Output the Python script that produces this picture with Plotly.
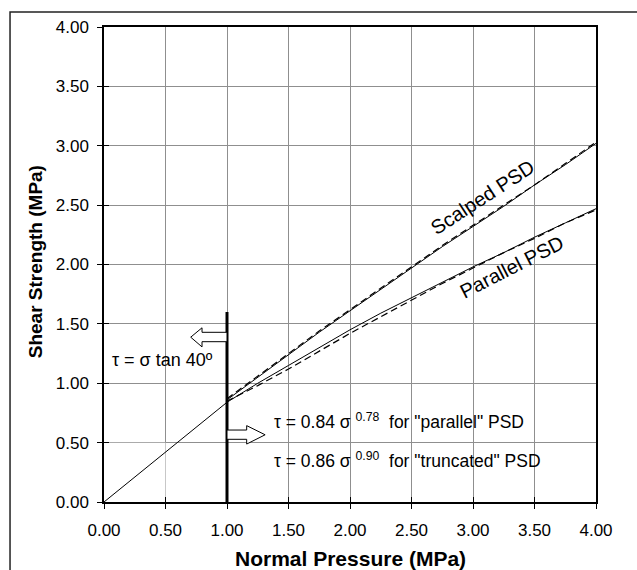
import plotly.graph_objects as go

# ---- data ----
sigma_line = [0.0, 1.0]
tau_line = [0.0, 0.84]

sigma = [1.0, 1.25, 1.5, 1.75, 2.0, 2.25, 2.5, 2.75, 3.0, 3.25, 3.5, 3.75, 4.0]
scalped_solid = [0.86, 1.05, 1.24, 1.43, 1.61, 1.79, 1.97, 2.15, 2.32, 2.49, 2.67, 2.84, 3.02]
scalped_dash = [0.87, 1.06, 1.25, 1.44, 1.62, 1.80, 1.98, 2.16, 2.33, 2.50, 2.67, 2.85, 3.03]
parallel_solid = [0.84, 1.00, 1.15, 1.30, 1.45, 1.59, 1.72, 1.85, 1.98, 2.10, 2.23, 2.35, 2.47]
parallel_dash = [0.85, 0.98, 1.12, 1.27, 1.42, 1.56, 1.70, 1.84, 1.97, 2.10, 2.22, 2.35, 2.46]

limit_x = [1.0, 1.0]
limit_y = [0.0, 1.6]

tick_vals = [0, 0.5, 1.0, 1.5, 2.0, 2.5, 3.0, 3.5, 4.0]
tick_text = ["0.00", "0.50", "1.00", "1.50", "2.00", "2.50", "3.00", "3.50", "4.00"]

FONT = "Liberation Sans, Arial, sans-serif"

fig = go.Figure()
line_style = dict(color="black", width=1)
fig.add_trace(go.Scatter(x=sigma_line, y=tau_line, mode="lines", line=line_style, showlegend=False))
fig.add_trace(go.Scatter(x=sigma, y=scalped_solid, mode="lines", line=line_style, showlegend=False))
fig.add_trace(go.Scatter(x=sigma, y=scalped_dash, mode="lines",
                         line=dict(color="black", width=1.2, dash="7px,4px"), showlegend=False))
fig.add_trace(go.Scatter(x=sigma, y=parallel_solid, mode="lines", line=line_style, showlegend=False))
fig.add_trace(go.Scatter(x=sigma, y=parallel_dash, mode="lines",
                         line=dict(color="black", width=1.2, dash="7px,4px"), showlegend=False))
fig.add_trace(go.Scatter(x=limit_x, y=limit_y, mode="lines",
                         line=dict(color="black", width=3), showlegend=False))
# dummy trace for the overlaid (inside-tick) axes
fig.add_trace(go.Scatter(x=[None], y=[None], xaxis="x2", yaxis="y2", showlegend=False))

grid = "#8f8f8f"
fig.update_layout(
    width=637, height=570,
    margin=dict(l=104, r=41, t=27, b=68),
    paper_bgcolor="white", plot_bgcolor="white",
    font=dict(family=FONT, color="black", size=17),
    xaxis=dict(range=[0, 4], tickvals=tick_vals, ticktext=tick_text,
               showgrid=True, gridcolor=grid, gridwidth=1,
               showline=True, linecolor="black", linewidth=1.5, mirror=True,
               ticks="outside", ticklen=5, tickcolor="black", ticklabelstandoff=7,
               tickfont=dict(size=17), zeroline=False),
    yaxis=dict(range=[0, 4], tickvals=tick_vals, ticktext=tick_text,
               showgrid=True, gridcolor=grid, gridwidth=1,
               showline=True, linecolor="black", linewidth=1.5, mirror=True,
               ticks="outside", ticklen=5, tickcolor="black", ticklabelstandoff=5,
               tickfont=dict(size=17), zeroline=False),
    xaxis2=dict(range=[0, 4], overlaying="x", matches="x", tickvals=tick_vals,
                showticklabels=False, showgrid=False, showline=False, zeroline=False,
                ticks="inside", ticklen=5, tickcolor="black"),
    yaxis2=dict(range=[0, 4], overlaying="y", matches="y", tickvals=tick_vals,
                showticklabels=False, showgrid=False, showline=False, zeroline=False,
                ticks="inside", ticklen=5, tickcolor="black"),
)

# white patch hiding the grid in the lower-left cell
fig.add_shape(type="rect", xref="x", yref="y", x0=0.004, x1=0.5, y0=0.004, y1=0.5,
              fillcolor="white", line=dict(width=0), layer="between")

# outer frame (partly cut off on the right and bottom)
fig.add_shape(type="path", xref="paper", yref="paper",
              path="M 1.2 1.0316 L -0.191 1.0316 L -0.191 -0.3",
              line=dict(color="#222222", width=1.5))

# hollow arrows
arrow_left = "M 1.0 1.429 L 0.797 1.429 L 0.797 1.467 L 0.705 1.388 L 0.797 1.306 L 0.797 1.35 L 1.0 1.35 Z"
arrow_right = "M 1.0 0.606 L 1.16 0.606 L 1.16 0.643 L 1.31 0.566 L 1.16 0.488 L 1.16 0.528 L 1.0 0.528 Z"
for p in (arrow_left, arrow_right):
    fig.add_shape(type="path", xref="x", yref="y", path=p,
                  fillcolor="white", line=dict(color="black", width=1))

# text
fig.add_annotation(x=0.049, y=1.196, xref="x", yref="y", xanchor="left", yanchor="middle",
                   text="τ = σ tan 40º", showarrow=False, font=dict(size=18))
fig.add_annotation(x=1.366, y=0.68, xref="x", yref="y", xanchor="left", yanchor="middle",
                   text="τ = 0.84 σ <sup>0.78</sup>  for \"parallel\" PSD", showarrow=False,
                   font=dict(size=17.5))
fig.add_annotation(x=1.366, y=0.355, xref="x", yref="y", xanchor="left", yanchor="middle",
                   text="τ = 0.86 σ <sup>0.90</sup>  for \"truncated\" PSD", showarrow=False,
                   font=dict(size=17.5))
fig.add_annotation(x=3.081, y=2.568, xref="x", yref="y", text="Scalped PSD", showarrow=False,
                   textangle=-33, font=dict(size=20))
fig.add_annotation(x=3.315, y=1.981, xref="x", yref="y", text="Parallel PSD", showarrow=False,
                   textangle=-27, font=dict(size=20))

# axis titles
fig.add_annotation(x=0.5, y=-0.118, xref="paper", yref="paper", xanchor="center", yanchor="middle",
                   text="<b>Normal Pressure (MPa)</b>", showarrow=False, font=dict(size=21))
fig.add_annotation(x=-0.140, y=0.505, xref="paper", yref="paper", xanchor="center", yanchor="middle",
                   text="<b>Shear Strength (MPa)</b>", showarrow=False, textangle=-90,
                   font=dict(size=19))

fig.write_html("out.html")
